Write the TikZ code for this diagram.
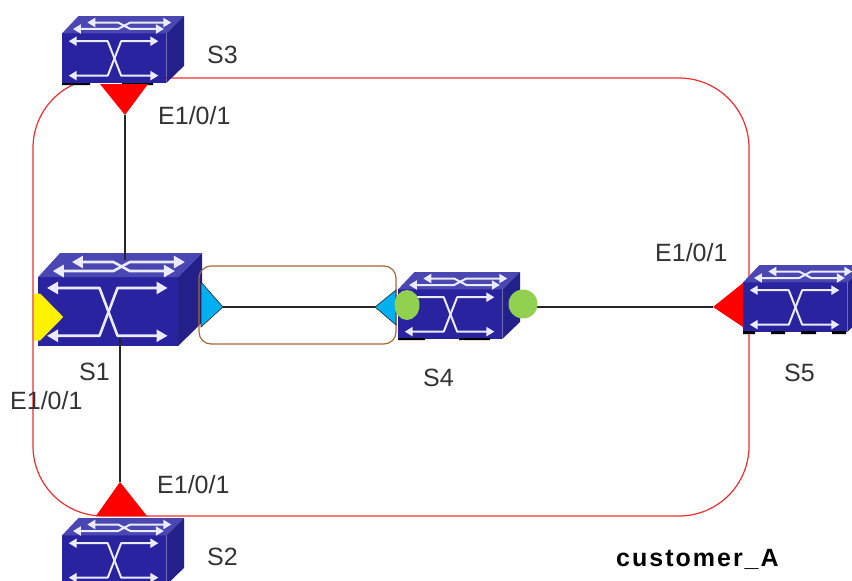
\documentclass[tikz,border=0pt]{standalone}
\usepackage{fontspec}
\setmainfont{Liberation Sans}
\usetikzlibrary{arrows.meta}
\definecolor{swfront}{HTML}{2A239F}
\definecolor{swtop}{HTML}{4A47B2}
\definecolor{swside}{HTML}{24208A}
\definecolor{ringred}{HTML}{F03030}
\definecolor{lagbrown}{HTML}{A8683A}
\definecolor{portblue}{HTML}{00B0F0}
\definecolor{portgreen}{HTML}{92D050}
\tikzset{
  lbl/.style={anchor=west,inner sep=0pt,font=\fontsize{25}{25}\selectfont,text=black!80},
  link/.style={draw=black!85,line width=1.4pt},
  ring/.style={draw=ringred,line width=1.2pt,rounded corners=70pt},
  lag/.style={draw=lagbrown,line width=1.2pt,rounded corners=12pt},
  redport/.style={fill=red},
  blueport/.style={fill=portblue,draw=black!85,line width=.6pt},
  greenport/.style={fill=portgreen},
  yellowport/.style={fill=yellow,draw=yellow,line width=1pt,line join=round}
}
% x y w h line-width arrow-length arrow-width
\newcommand{\swicon}[7]{%
  \begin{scope}[shift={(#1,#2)},x=#3pt,y=-#4pt]
    \fill[swfront] (0,.26) rectangle (.855,1);
    \fill[swtop] (0,.26) -- (.135,0) -- (1,0) -- (.855,.26) -- cycle;
    \fill[swside] (.855,.26) -- (1,0) -- (1,.745) -- (.855,1) -- cycle;
    \begin{scope}[draw=white!92!blue,line width=#5pt,arrows={Stealth[length=#6pt,width=#7pt,inset=0pt]-Stealth[length=#6pt,width=#7pt,inset=0pt]},line join=round]
      \draw (.055,.376) -- (.375,.376) -- (.485,.89) -- (.79,.89);
      \draw (.055,.89) -- (.375,.89) -- (.485,.376) -- (.79,.376);
      \draw (.207,.097) -- (.46,.097) -- (.56,.194) -- (.835,.194);
      \draw (.09,.194) -- (.46,.194) -- (.56,.097) -- (.896,.097);
    \end{scope}
  \end{scope}}
\begin{document}
\begin{tikzpicture}[x=1pt,y=-1pt]
\useasboundingbox (0,0) rectangle (852,581);
\clip (0,0) rectangle (852,581);
\fill[white] (0,0) rectangle (852,581);

\draw[ring] (33,78) rectangle (749,516);

% connector end points
\coordinate (p3) at (125,115);
\coordinate (s1top) at (125,260);
\coordinate (s1bot) at (120,338);
\coordinate (p2) at (120,482);
\coordinate (p1r) at (223,307);
\coordinate (p4l) at (375,307);
\coordinate (p4r) at (537,307);
\coordinate (p5) at (713,307);

% switches
\fill[black] (62,82.5) rectangle (90,85) (122,82.5) rectangle (153,85);
\swicon{62}{16}{122}{67}{2}{8}{9}
\swicon{38}{253}{164}{93}{2.6}{11}{12}
\swicon{398}{272}{122}{67}{2}{8}{9}
\swicon{743}{265}{122}{67}{2}{8}{9}
\swicon{62}{518}{122}{67}{2}{8}{9}
\fill[black] (398,338) rectangle (425,340) (459,338) rectangle (490,340);
\fill[black] (743,331) rectangle (755,334) (771,331) rectangle (785,334) (801,331) rectangle (816,334) (832,331) rectangle (846,334);

% links
\draw[link] (p3) -- (s1top);
\draw[link] (s1bot) -- (p2);
\draw[link] (p1r) -- (p4l);
\draw[link] (p4r) -- (p5);

% trunk group
\draw[lag] (199,266) rectangle (396,344);

% ports
\fill[redport] (100,84) -- (p3) -- (148,84) -- cycle;
\fill[redport] (96,516) -- (p2) -- (147,516) -- cycle;
\fill[redport] (743,283) -- (p5) -- (743,327) -- cycle;
\filldraw[yellowport] (34.5,294) -- (40,294) -- (62.5,317) -- (40,340) -- (34.5,340) -- cycle;
\filldraw[blueport] (201,282) -- (p1r) -- (201,327) -- cycle;
\filldraw[blueport] (396,290) -- (p4l) -- (396,325) -- cycle;
\fill[greenport] (407,305) ellipse [x radius=12.5,y radius=15];
\fill[greenport] (523,304) circle [radius=14.5];

% labels
\node[lbl] (l3) at (207,55) {S3};
\node[lbl] (e3) at (158,116) {E1/0/1};
\node[lbl] (l1) at (79,372) {S1};
\node[lbl] (e1) at (10,401) {E1/0/1};
\node[lbl] (e2) at (157,485) {E1/0/1};
\node[lbl] (l2) at (207,557) {S2};
\node[lbl] (l4) at (423,378) {S4};
\node[lbl] (l5) at (784,373) {S5};
\node[lbl] (e5) at (655,253) {E1/0/1};
\node[lbl,font=\fontsize{25}{25}\selectfont\bfseries\addfontfeatures{LetterSpace=8},text=black] (cust) at (616,559) {customer\_A};
\end{tikzpicture}
\end{document}
